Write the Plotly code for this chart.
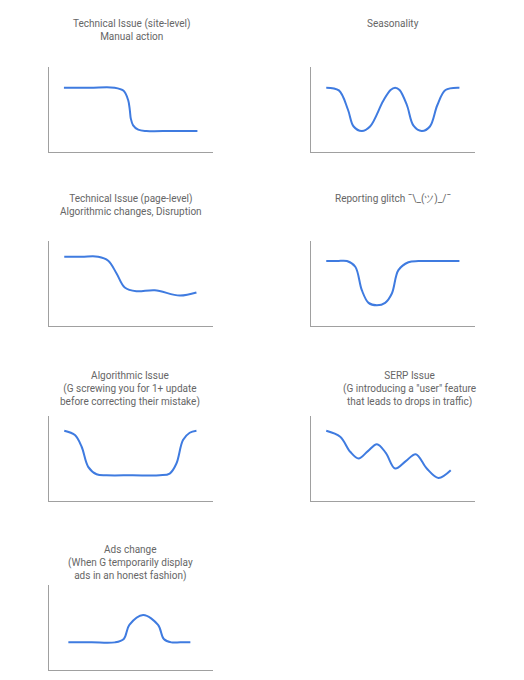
import plotly.graph_objects as go

# Panel titles
titles = [
    "Technical Issue (site-level)<br>Manual action",
    "Seasonality",
    "Technical Issue (page-level)<br>Algorithmic changes, Disruption",
    "Reporting glitch ¯\\_(ツ)_/¯",
    "Algorithmic Issue<br>(G screwing you for 1+ update<br>before correcting their mistake)",
    "SERP Issue<br>(G introducing a \"user\" feature<br>that leads to drops in traffic)",
    "Ads change<br>(When G temporarily display<br>ads in an honest fashion)",
]

# Curve key points (0-100 units of each small panel)
site_x = [9.1, 25.0, 40.0, 45.5, 48.3, 49.3, 49.9, 51.3, 54.4, 59.4, 75.0, 90.5]
site_y = [75.7, 75.7, 75.7, 72.0, 60.8, 49.0, 39.2, 31.4, 26.3, 24.7, 24.7, 24.7]

season_x = [9.3, 17.0, 22.5, 26.0, 31.0, 36.0, 44.0, 48.5, 51.3, 54.0, 58.5, 62.5, 67.5, 72.5, 77.0, 82.0, 90.5]
season_y = [75.7, 72.5, 50.0, 30.0, 24.7, 30.0, 60.0, 73.0, 75.7, 73.0, 55.0, 31.0, 24.7, 30.0, 55.0, 73.0, 75.7]

page_x = [9.3, 20.0, 30.0, 36.1, 41.2, 46.2, 53.3, 64.5, 79.7, 89.9]
page_y = [81.5, 81.5, 81.5, 76.8, 61.8, 45.3, 40.9, 42.1, 35.8, 39.4]

glitch_x = [9.3, 16.0, 21.9, 27.0, 31.0, 35.1, 40.2, 45.2, 49.3, 53.3, 59.4, 65.5, 78.0, 90.5]
glitch_y = [76.4, 76.4, 76.4, 69.7, 42.1, 27.2, 24.4, 27.2, 38.2, 65.7, 75.0, 76.4, 76.4, 76.4]

algo_x = [9.3, 15.8, 19.9, 23.9, 29.0, 35.1, 51.0, 67.5, 73.6, 77.7, 81.7, 85.8, 89.9]
algo_y = [82.7, 77.6, 63.8, 40.2, 31.5, 30.3, 30.3, 30.3, 32.3, 44.1, 71.7, 80.3, 82.7]

serp_x = [9.3, 17.8, 23.9, 29.0, 34.7, 40.2, 45.6, 51.3, 57.8, 63.9, 70.6, 77.7, 85.2]
serp_y = [82.7, 75.6, 57.9, 50.0, 58.7, 66.9, 56.7, 38.2, 46.9, 55.1, 38.2, 27.2, 36.2]

ads_x = [11.8, 26.0, 40.2, 45.6, 49.0, 57.4, 66.5, 70.0, 74.6, 80.0, 86.2]
ads_y = [32.5, 32.5, 32.5, 36.5, 53.0, 64.7, 53.0, 36.5, 32.5, 32.5, 32.5]

series = [(site_x, site_y), (season_x, season_y), (page_x, page_y), (glitch_x, glitch_y),
          (algo_x, algo_y), (serp_x, serp_y), (ads_x, ads_y)]

OFF = 8  # page body margin
W, H = 524 - 2 * OFF, 680 - 2 * OFF
# panel pixel boxes on the page: (left, right) / (top, bottom)
col_lr = [(49, 213), (311, 475)]
row_tb = [(67, 152), (241, 326), (416, 501), (585, 670)]
# title block centres (page px)
title_pos = [(131, 30.5), (393, 24), (131, 205), (393, 199),
             (130, 389), (409, 389), (130, 563)]

fig = go.Figure()
layout = dict(width=W, height=H, margin=dict(l=0, r=0, t=0, b=0),
              paper_bgcolor="white", plot_bgcolor="white", showlegend=False)
annotations = []
for i, (xs, ys) in enumerate(series):
    r, c = divmod(i, 2)
    left, right = col_lr[c]
    top, bottom = row_tb[r]
    n = "" if i == 0 else str(i + 1)
    fig.add_trace(go.Scatter(x=xs, y=ys, mode="lines", xaxis="x" + n, yaxis="y" + n,
                             line=dict(color="#3f7be0", width=2, shape="spline", smoothing=1.0),
                             hoverinfo="skip"))
    ax = dict(range=[0, 100], showline=True, linecolor="#a0a0a0", linewidth=1,
              showgrid=False, zeroline=False, showticklabels=False, ticks="", fixedrange=True)
    x0 = max(0.0, (left - OFF) / W)
    x1 = min(1.0, (right - OFF) / W)
    y0 = max(0.0, 1 - (bottom - OFF) / H)
    y1 = min(1.0, 1 - (top - OFF) / H)
    layout["xaxis" + n] = dict(ax, domain=[x0, x1], anchor="y" + n)
    layout["yaxis" + n] = dict(ax, domain=[y0, y1], anchor="x" + n)
    tx, ty = title_pos[i]
    annotations.append(dict(text=titles[i], x=(tx - OFF) / W, y=1 - (ty - OFF) / H,
                            xref="paper", yref="paper",
                            xanchor="center", yanchor="middle", showarrow=False, align="center",
                            font=dict(family="Roboto", size=10, color="#666666")))
layout["annotations"] = annotations
fig.update_layout(**layout)
fig.write_html("out.html")
